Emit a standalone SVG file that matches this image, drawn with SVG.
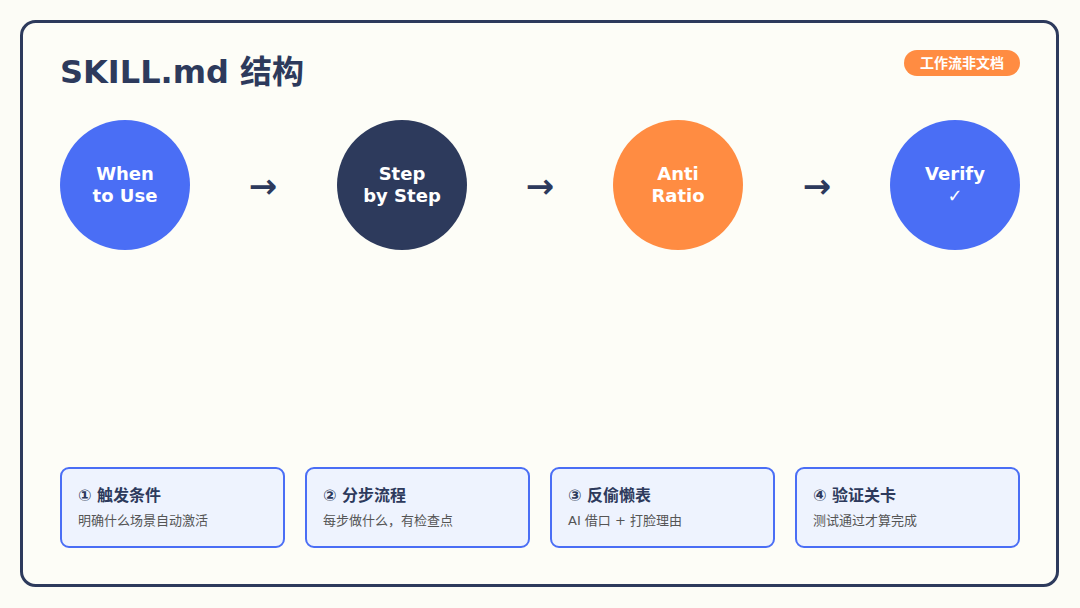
<svg xmlns="http://www.w3.org/2000/svg" width="1080" height="608" viewBox="0 0 1080 608">
<style>
text{font-family:"DejaVu Sans","Noto Sans CJK SC",sans-serif}
.ct{font-size:18px;font-weight:bold;fill:#fff;text-anchor:middle}
.ar{font-size:34px;font-weight:bold;fill:#2d3a5c;text-anchor:middle}
.card{fill:#eef3fe;stroke:#4a6ef5;stroke-width:2}
.t{font-size:16px;font-weight:bold;fill:#2d3a5c}
.d{font-size:13px;fill:#555}
</style>
<rect width="1080" height="608" fill="#fcfcf6"/>
<rect x="21.5" y="21.5" width="1036" height="564" rx="14" fill="#fdfdf7" stroke="#2d3a5c" stroke-width="3"/>
<text x="60" y="83" font-size="32" font-weight="bold" fill="#2d3a5c">SKILL.md 结构</text>
<g id="badge"><rect x="904" y="50" width="116" height="26" rx="13" fill="#ff8c42"/><text x="962" y="68" font-size="14" font-weight="bold" fill="#fff" text-anchor="middle">工作流非文档</text></g>
<g id="n1"><circle cx="125" cy="185" r="65" fill="#4a6ef5"/><text class="ct" x="125" y="180">When</text><text class="ct" x="125" y="202">to Use</text></g>
<g id="n2"><circle cx="402" cy="185" r="65" fill="#2d3a5c"/><text class="ct" x="402" y="180">Step</text><text class="ct" x="402" y="202">by Step</text></g>
<g id="n3"><circle cx="678" cy="185" r="65" fill="#ff8c42"/><text class="ct" x="678" y="180">Anti</text><text class="ct" x="678" y="202">Ratio</text></g>
<g id="n4"><circle cx="955" cy="185" r="65" fill="#4a6ef5"/><text class="ct" x="955" y="180">Verify</text><text class="ct" x="955" y="202">✓</text></g>
<g id="connectors"><text class="ar" x="263" y="198">→</text><text class="ar" x="540" y="198">→</text><text class="ar" x="817" y="198">→</text></g>
<g id="c1"><rect class="card" x="61" y="468" width="223" height="79" rx="8"/><text class="t" x="78" y="501">① 触发条件</text><text class="d" x="78" y="525">明确什么场景自动激活</text></g>
<g id="c2"><rect class="card" x="306" y="468" width="223" height="79" rx="8"/><text class="t" x="323" y="501">② 分步流程</text><text class="d" x="323" y="525">每步做什么，有检查点</text></g>
<g id="c3"><rect class="card" x="551" y="468" width="223" height="79" rx="8"/><text class="t" x="568" y="501">③ 反偷懒表</text><text class="d" x="568" y="525">AI 借口 + 打脸理由</text></g>
<g id="c4"><rect class="card" x="796" y="468" width="223" height="79" rx="8"/><text class="t" x="813" y="501">④ 验证关卡</text><text class="d" x="813" y="525">测试通过才算完成</text></g>
</svg>
